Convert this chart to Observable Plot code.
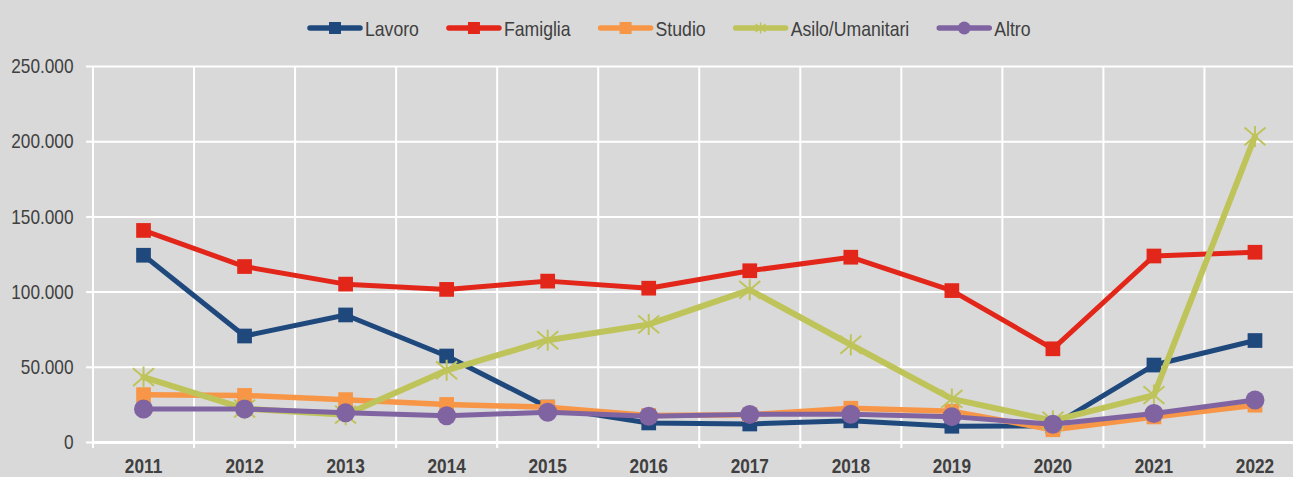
<!DOCTYPE html>
<html><head><meta charset="utf-8">
<script src="https://cdn.jsdelivr.net/npm/d3@7"></script>
<script src="https://cdn.jsdelivr.net/npm/@observablehq/plot@0.6"></script>
<style>
html,body{margin:0;padding:0;background:#d9d9d9;overflow:hidden;width:1293px;height:477px;}
body{font-family:"Liberation Sans",Arial,sans-serif;color:#404040;}
#legend{display:block;}
#chart svg{overflow:visible;display:block}
</style>
</head><body>
<svg id="legend" width="1293" height="50"></svg>
<div id="chart"></div>
<script>
const years = [2011, 2012, 2013, 2014, 2015, 2016, 2017, 2018, 2019, 2020, 2021, 2022];
const lavoro   = [124500, 70800, 84800, 57500, 23500, 13000, 12300, 14400, 10800, 11000, 51500, 67800];
const famiglia = [141000, 117000, 105300, 101800, 107300, 102600, 114200, 123200, 101000, 62300, 124000, 126500];
const studio   = [31800, 31300, 28500, 25300, 23500, 18000, 18500, 22800, 20800, 8500, 17000, 24800];
const asilo    = [43500, 22500, 18500, 48000, 68000, 78500, 101500, 65000, 29000, 14500, 31500, 203500];
const altro    = [22300, 22300, 19700, 17800, 20100, 17400, 18700, 18800, 17200, 12100, 19300, 28200];
const seriesNames = ["Lavoro", "Famiglia", "Studio", "Asilo/Umanitari", "Altro"];
const seriesColors = ["#1f497d", "#e3261a", "#f79646", "#bfc45a", "#8064a2"];
const yTicks = [0, 50000, 100000, 150000, 200000, 250000];

const seriesValues = [lavoro, famiglia, studio, asilo, altro];
const markerKind = ["square", "square", "square", "star", "circle"];
const lineWidths = [5, 5, 5.5, 6, 5];

const fmt = d3.formatLocale({decimal: ",", thousands: ".", grouping: [3], currency: ["", "€"]}).format(",d");

const starSymbol = {
  draw(ctx, size) {
    const r = Math.sqrt(size / Math.PI);
    const ry = r * 0.85;
    ctx.moveTo(-r, -ry); ctx.lineTo(r, ry);
    ctx.moveTo(-r, ry); ctx.lineTo(r, -ry);
    ctx.moveTo(0, -r); ctx.lineTo(0, r);
  }
};

function narrow(textEl, k) {
  const w = textEl.getComputedTextLength();
  if (w > 0) {
    textEl.setAttribute("textLength", (w * k).toFixed(2));
    textEl.setAttribute("lengthAdjust", "spacingAndGlyphs");
  }
  return w * k;
}

// legend (SVG, narrow text)
const NS = "http://www.w3.org/2000/svg";
const legend = document.getElementById("legend");
let lx = 307;
const ly = 28;
seriesNames.forEach((name, i) => {
  const c = seriesColors[i];
  const g = document.createElementNS(NS, "g");
  g.innerHTML = `<line x1="${lx + 3}" y1="${ly}" x2="${lx + 53}" y2="${ly}" stroke="${c}" stroke-width="5.5" stroke-linecap="round"/>` +
    (markerKind[i] === "square" ? `<rect x="${lx + 22}" y="${ly - 6}" width="12" height="12" fill="${c}"/>`
      : markerKind[i] === "circle" ? `<circle cx="${lx + 28}" cy="${ly}" r="6.5" fill="${c}"/>`
      : `<path d="M${lx + 23},${ly - 4}L${lx + 33},${ly + 4}M${lx + 23},${ly + 4}L${lx + 33},${ly - 4}M${lx + 28},${ly - 5.5}L${lx + 28},${ly + 5.5}" stroke="${c}" stroke-width="1.5" fill="none"/>`);
  const t = document.createElementNS(NS, "text");
  t.setAttribute("x", lx + 58);
  t.setAttribute("y", ly + 7.5);
  t.setAttribute("font-size", "21");
  t.setAttribute("fill", "#404040");
  t.setAttribute("font-family", '"Liberation Sans",Arial,sans-serif');
  t.textContent = name;
  g.appendChild(t);
  legend.appendChild(g);
  const w = narrow(t, 0.84);
  lx = lx + 58 + w + 27;
});

const rows = [];
seriesNames.forEach((name, i) => years.forEach((y, j) => rows.push({series: name, year: y, value: seriesValues[i][j]})));

const bounds = years.map(y => y - 0.5).concat([years[years.length - 1] + 0.5]);

const seriesMarks = [];
seriesNames.forEach((name, i) => {
  const data = rows.filter(d => d.series === name);
  const c = seriesColors[i];
  seriesMarks.push(Plot.line(data, {x: "year", y: "value", stroke: c, strokeWidth: lineWidths[i], strokeLinejoin: "round", strokeLinecap: "round"}));
  if (markerKind[i] === "square") seriesMarks.push(Plot.dot(data, {x: "year", y: "value", symbol: "square", r: 8.3, fill: c, stroke: "none"}));
  else if (markerKind[i] === "circle") seriesMarks.push(Plot.dot(data, {x: "year", y: "value", symbol: "circle", r: 9.5, fill: c, stroke: "none"}));
  else seriesMarks.push(Plot.dot(data, {x: "year", y: "value", symbol: starSymbol, r: 10.5, fill: "none", stroke: c, strokeWidth: 2}));
});

const chart = Plot.plot({
  width: 1293, height: 427,
  marginLeft: 92, marginRight: 0, marginTop: 16, marginBottom: 35,
  style: {background: "transparent", fontFamily: '"Liberation Sans",Arial,sans-serif', overflow: "visible"},
  x: {type: "linear", domain: [2010.5, 2022.5], range: [92.5, 1305]},
  y: {domain: [0, 250000], range: [392, 16]},
  marks: [
    Plot.ruleY(yTicks, {stroke: "white", strokeWidth: 2}),
    Plot.ruleX(bounds, {stroke: "white", strokeWidth: 2, insetBottom: -6}),
    Plot.ruleY([0], {stroke: "white", strokeWidth: 3}),
    Plot.axisY({ticks: yTicks, tickSize: 6, tickPadding: 13, tickFormat: fmt, stroke: "white", strokeWidth: 2, fill: "#404040", fontSize: 21, label: null}),
    Plot.axisX({ticks: years, tickSize: 0, tickPadding: 16, tickFormat: d => String(d), fill: "#404040", fontSize: 21, fontWeight: "bold", label: null}),
    ...seriesMarks
  ]
});
document.getElementById("chart").appendChild(chart);
chart.querySelectorAll("text").forEach(t => narrow(t, 0.82));
</script>
</body></html>
